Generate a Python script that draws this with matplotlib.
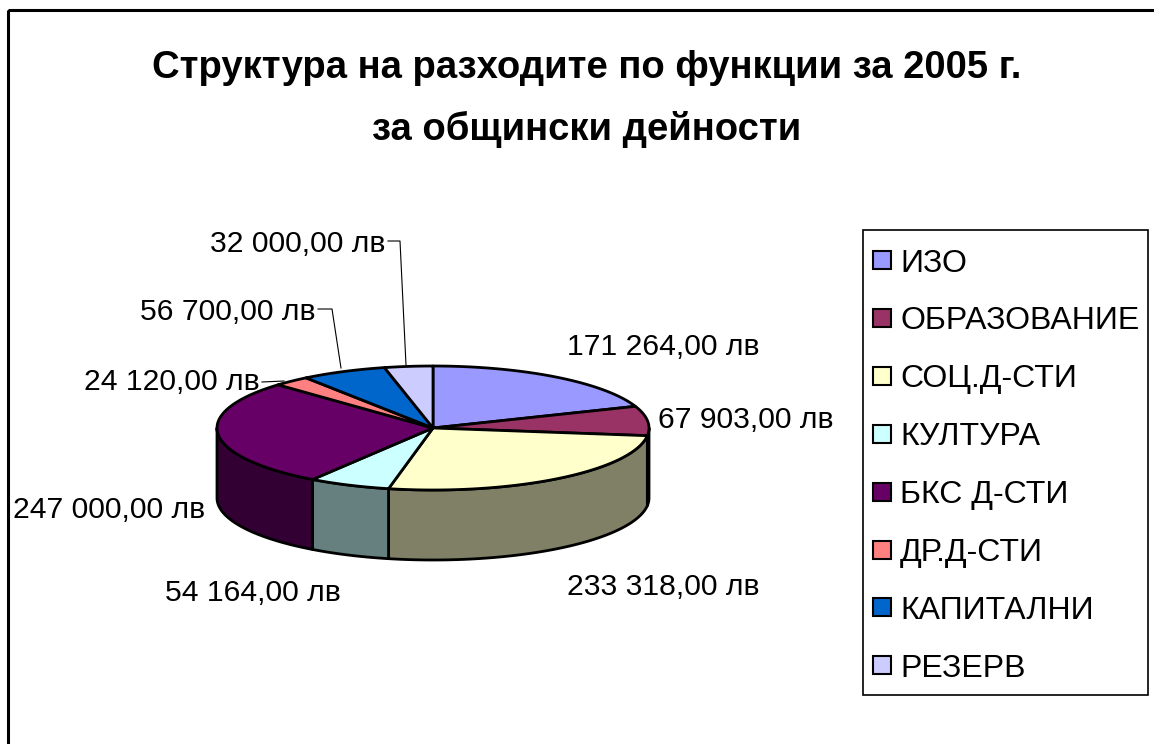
import matplotlib
matplotlib.use("Agg")
import matplotlib.pyplot as plt
import numpy as np
from matplotlib.patches import Polygon, Rectangle

plt.rcParams["font.family"] = ["Liberation Sans", "DejaVu Sans"]

# ---- data ------------------------------------------------------------------
title_lines = ["Структура на разходите по функции за 2005 г.",
               "за общински дейности"]
categories = ["ИЗО", "ОБРАЗОВАНИЕ", "СОЦ.Д-СТИ", "КУЛТУРА",
              "БКС Д-СТИ", "ДР.Д-СТИ", "КАПИТАЛНИ", "РЕЗЕРВ"]
values = [171264.00, 67903.00, 233318.00, 54164.00,
          247000.00, 24120.00, 56700.00, 32000.00]
colors = ["#9999FF", "#993366", "#FFFFCC", "#CCFFFF",
          "#660066", "#FF8080", "#0066CC", "#CCCCFF"]

# ---- layout (pixel coords, y down) ----------------------------------------
W, H = 1154, 744
cx, cy, rx, ry, depth = 433, 428, 216, 62, 70

# label anchors: (x, baseline y, ha)
label_pos = [(567, 355, "left"), (658, 428, "left"), (567, 595, "left"),
             (253, 601, "center"), (205, 518, "right"), (260, 390, "right"),
             (315, 320, "right"), (385, 252, "right")]
# leader lines for the small slices (index -> polyline)
leaders = {5: [(262, 382), (284, 381)],
           6: [(318, 309), (332, 309), (341, 368)],
           7: [(388, 241), (400, 241), (406, 365)]}


def fmt(v):
    s = f"{v:,.2f}".replace(",", " ").replace(".", ",")
    return s + " лв"


def pt(theta_deg, dy=0.0):
    t = np.radians(theta_deg)
    return cx + rx * np.sin(t), cy - ry * np.cos(t) + dy


def darker(c, f=0.5):
    rgb = np.array(matplotlib.colors.to_rgb(c))
    return tuple(rgb * f)


fig = plt.figure(figsize=(W / 100, H / 100), dpi=100)
ax = fig.add_axes([0, 0, 1, 1])
ax.set_xlim(0, W)
ax.set_ylim(H, 0)
ax.axis("off")

# chart border (only left/top edges fall inside the picture)
ax.add_patch(Rectangle((8, 10), 2000, 2000, fill=False, lw=2.2,
                       edgecolor="black"))

# title
ax.text(587, 78, title_lines[0], ha="center", va="baseline",
        fontsize=27.5, fontweight="bold")
ax.text(587, 140, title_lines[1], ha="center", va="baseline",
        fontsize=27.5, fontweight="bold")

# slice angles, clockwise from 12 o'clock
frac = np.array(values) / np.sum(values)
bounds = np.concatenate([[0], np.cumsum(frac)]) * 360

# outer walls (front half only: 90..270 deg)
for i in range(len(values)):
    a, b = max(bounds[i], 90), min(bounds[i + 1], 270)
    if b <= a:
        continue
    th = np.linspace(a, b, 80)
    top = [pt(t) for t in th]
    bot = [pt(t, depth) for t in th[::-1]]
    ax.add_patch(Polygon(top + bot, closed=True, facecolor=darker(colors[i]),
                         edgecolor="black", lw=2, joinstyle="round"))

# top faces
for i in range(len(values)):
    th = np.linspace(bounds[i], bounds[i + 1], 120)
    verts = [(cx, cy)] + [pt(t) for t in th]
    ax.add_patch(Polygon(verts, closed=True, facecolor=colors[i],
                         edgecolor="black", lw=2, joinstyle="round"))

# data labels
for i, v in enumerate(values):
    x, y, ha = label_pos[i]
    ax.text(x, y, fmt(v), ha=ha, va="baseline", fontsize=21.7)
for i, line in leaders.items():
    xs, ys = zip(*line)
    ax.plot(xs, ys, color="black", lw=0.8)

# legend
ax.add_patch(Rectangle((863, 230), 285, 465, fill=False, lw=1.2,
                       edgecolor="black"))
for i, name in enumerate(categories):
    yc = 260 + 57.9 * i
    ax.add_patch(Rectangle((873, yc - 9), 18, 18, facecolor=colors[i],
                           edgecolor="black", lw=1.5))
    ax.text(900, yc + 11.5, name, ha="left", va="baseline", fontsize=23)

fig.savefig("out.png", dpi=100)
plt.close(fig)
